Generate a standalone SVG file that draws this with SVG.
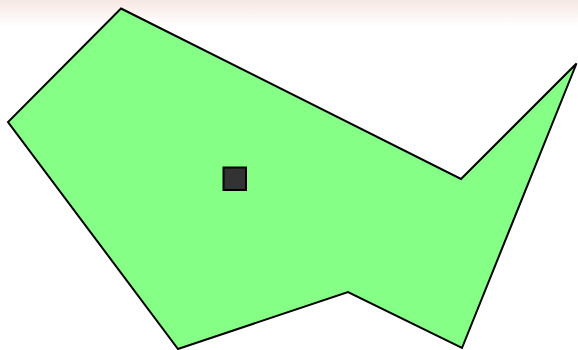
<svg xmlns="http://www.w3.org/2000/svg" width="578" height="350" viewBox="0 0 578 350">
  <defs>
    <linearGradient id="bg" x1="0" y1="0" x2="0" y2="1">
      <stop offset="0" stop-color="#f6e8e3"/>
      <stop offset="1" stop-color="#ffffff"/>
    </linearGradient>
    <style>
      .shape { fill: #85ff85; stroke: #000; stroke-width: 2; stroke-linejoin: miter; }
      .marker { fill: #333333; stroke: #000000; stroke-width: 2; }
    </style>
  </defs>
  <rect x="0" y="0" width="578" height="350" fill="#ffffff"/>
  <rect x="0" y="0" width="578" height="26" fill="url(#bg)"/>
  <g id="polygon">
    <polygon class="shape" points="121,8.5 461,179 576.5,63.5 462,348 348,292 178,349 8,122"/>
  </g>
  <g id="square">
    <rect class="marker" x="223.5" y="167.5" width="22.5" height="22.5"/>
  </g>
</svg>
